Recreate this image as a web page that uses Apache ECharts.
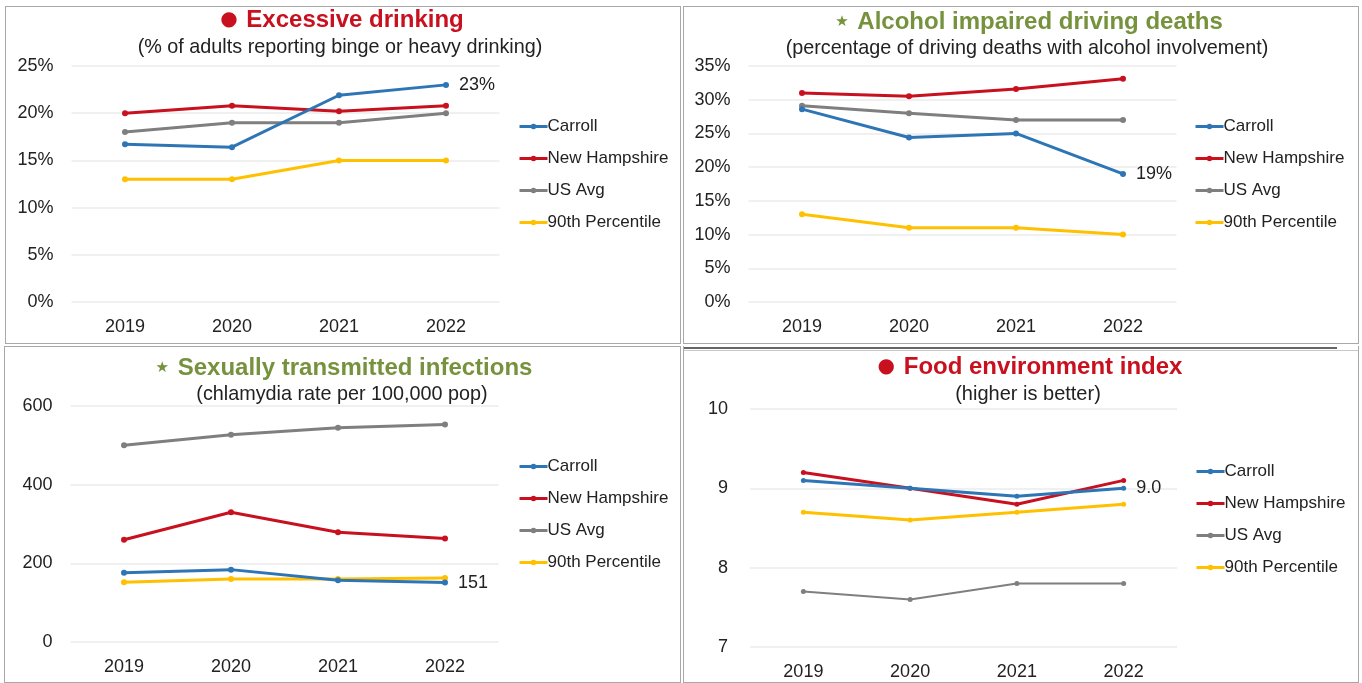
<!DOCTYPE html>
<html><head><meta charset="utf-8">
<script src="https://cdn.jsdelivr.net/npm/echarts@6/dist/echarts.min.js"></script>
<style>
html,body{margin:0;padding:0;background:#fff;width:1362px;height:683px;overflow:hidden;font-family:"Liberation Sans",Arial,sans-serif}
.p{position:absolute;box-sizing:border-box;border:1px solid #a8a8a8;background:#fff}
#line{position:absolute;left:684px;top:347px;width:653px;height:2px;background:#666}
#line2{position:absolute;left:684px;top:350px;width:674px;height:1px;background:#c8c8c8}
</style></head><body>
<div class="p" id="a" style="left:5px;top:6px;width:676px;height:338px"></div>
<div class="p" id="b" style="left:683px;top:6px;width:676px;height:338px"></div>
<div class="p" id="c" style="left:4px;top:346px;width:677px;height:337px"></div>
<div class="p" id="d" style="left:683px;top:346px;width:676px;height:337px;border-top:none"></div>
<div id="line"></div><div id="line2"></div>
<script>
// ---- data ----
const years = ['2019', '2020', '2021', '2022'];
const seriesNames = ['Carroll', 'New Hampshire', 'US Avg', '90th Percentile'];

const drinkCarroll = [16.7, 16.4, 21.9, 23];
const drinkNH = [20.0, 20.8, 20.2, 20.8];
const drinkUS = [18, 19, 19, 20];
const drink90 = [13, 13, 15, 15];

const duiCarroll = [28.6, 24.4, 25.0, 19];
const duiNH = [31.0, 30.5, 31.6, 33.1];
const duiUS = [29.1, 28.0, 27.0, 27.0];
const dui90 = [13, 11, 11, 10];

const stiCarroll = [176, 184, 157, 151];
const stiNH = [260, 330, 279, 263];
const stiUS = [500, 527, 545, 553];
const sti90 = [152, 160, 160, 163];

const foodCarroll = [9.1, 9.0, 8.9, 9.0];
const foodNH = [9.2, 9.0, 8.8, 9.1];
const foodUS = [7.7, 7.6, 7.8, 7.8];
const food90 = [8.7, 8.6, 8.7, 8.8];

// axis ranges [min, max, interval]
const drinkAxis = [0, 25, 5];
const duiAxis = [0, 35, 5];
const stiAxis = [0, 600, 200];
const foodAxis = [7, 10, 1];

// ---- style ----
const colors = ['#2E75B6', '#C8101E', '#7F7F7F', '#FFC000'];
const FONT = '"Liberation Sans", Arial, sans-serif';
const RED = '#C8101E';
const GREEN = '#76923C';

function build(cfg) {
  const all = [cfg.carroll, cfg.nh, cfg.us, cfg.p90];
  const last = years.length - 1;
  const series = all.map((vals, si) => ({
    name: seriesNames[si],
    type: 'line',
    data: vals.map((v, i) => (si === 0 && i === last) ? {
      value: v,
      label: {
        show: true, position: 'right', distance: 10,
        formatter: cfg.endFmt, color: '#222', fontSize: 18, fontFamily: FONT
      }
    } : v),
    symbol: 'circle',
    symbolSize: cfg.symbolSize || 6,
    lineStyle: { width: cfg.lineWidths ? cfg.lineWidths[si] : 3, color: colors[si] },
    itemStyle: { color: colors[si], borderWidth: 0 },
    z: 10 - si + (si === 0 ? 5 : 0),
    animation: false
  }));
  return {
    animation: false,
    textStyle: { fontFamily: FONT },
    grid: { left: cfg.grid[0], top: cfg.grid[1], width: cfg.grid[2], height: cfg.grid[3] },
    xAxis: {
      type: 'category', data: years, boundaryGap: true,
      axisLine: { show: false }, axisTick: { show: false },
      axisLabel: { color: '#222', fontSize: 18, margin: 16, fontFamily: FONT }
    },
    yAxis: {
      type: 'value', min: cfg.axis[0], max: cfg.axis[1], interval: cfg.axis[2],
      axisLine: { show: false }, axisTick: { show: false },
      splitLine: { lineStyle: { color: '#ebebeb', width: 1.5 } },
      axisLabel: { color: '#222', fontSize: 18, margin: cfg.yMargin || 18, formatter: cfg.yFmt, fontFamily: FONT }
    },
    legend: {
      orient: 'vertical', left: cfg.legend[0] - 2, top: cfg.legend[1], padding: 0,
      itemWidth: 28, itemHeight: 7, itemGap: 15,
      itemStyle: { borderWidth: 0 },
      lineStyle: { width: 3 },
      textStyle: { color: '#222', fontSize: 17, lineHeight: 17, fontFamily: FONT, padding: [0, 0, 0, -5] },
      data: seriesNames
    },
    graphic: [
      {
        type: 'text', x: cfg.title[0], y: cfg.title[1],
        style: {
          text: cfg.titleText, textAlign: 'center', textVerticalAlign: 'middle',
          fontFamily: FONT, fontWeight: 'bold', fontSize: 24, fill: cfg.titleColor,
          rich: {
            dot: { fontSize: 20, fill: RED, fontFamily: 'DejaVu Sans', padding: [0, 2, 0, 0] },
            star: { fontSize: 15, fill: GREEN, fontFamily: 'DejaVu Sans', padding: [0, 2, 0, 0] },
            t: { fontSize: 24, fontWeight: 'bold', fill: cfg.titleColor, fontFamily: FONT }
          }
        }
      },
      {
        type: 'text', x: cfg.sub[0], y: cfg.sub[1],
        style: {
          text: cfg.subText, textAlign: 'center', textVerticalAlign: 'middle',
          fontFamily: FONT, fontSize: cfg.subSize || 19.8, fill: '#222'
        }
      }
    ],
    series: series
  };
}

const cfgs = {
  a: {
    carroll: drinkCarroll, nh: drinkNH, us: drinkUS, p90: drink90, axis: drinkAxis,
    grid: [65.5, 59, 428, 236], legend: [514, 111],
    yFmt: '{value}%', endFmt: p => p.value + '%',
    title: [336, 13], titleText: '{dot|●} {t|Excessive drinking}', titleColor: RED,
    sub: [334, 41], subText: '(% of adults reporting binge or heavy drinking)'
  },
  b: {
    carroll: duiCarroll, nh: duiNH, us: duiUS, p90: dui90, axis: duiAxis,
    grid: [64.5, 59, 428, 236], legend: [512, 111],
    yFmt: '{value}%', endFmt: p => p.value + '%',
    title: [345, 15], titleText: '{star|★} {t|Alcohol impaired driving deaths}', titleColor: GREEN,
    sub: [343, 42], subText: '(percentage of driving deaths with alcohol involvement)'
  },
  c: {
    carroll: stiCarroll, nh: stiNH, us: stiUS, p90: sti90, axis: stiAxis,
    grid: [65.5, 59, 428, 236], legend: [515, 111],
    yFmt: '{value}', endFmt: p => String(p.value),
    title: [339, 21], titleText: '{star|★} {t|Sexually transmitted infections}', titleColor: GREEN,
    sub: [337, 48], subText: '(chlamydia rate per 100,000 pop)'
  },
  d: {
    carroll: foodCarroll, nh: foodNH, us: foodUS, p90: food90, axis: foodAxis,
    grid: [66, 63, 427, 238], legend: [513, 117], yMargin: 22,
    lineWidths: [3, 3, 2, 3], symbolSize: 5,
    yFmt: '{value}', endFmt: p => Number(p.value).toFixed(1),
    title: [346, 21], titleText: '{dot|●} {t|Food environment index}', titleColor: RED,
    sub: [344, 48], subText: '(higher is better)', subSize: 20
  }
};

Object.keys(cfgs).forEach(id => {
  const chart = echarts.init(document.getElementById(id), null, { renderer: 'canvas' });
  chart.setOption(build(cfgs[id]));
});
</script>
</body></html>
